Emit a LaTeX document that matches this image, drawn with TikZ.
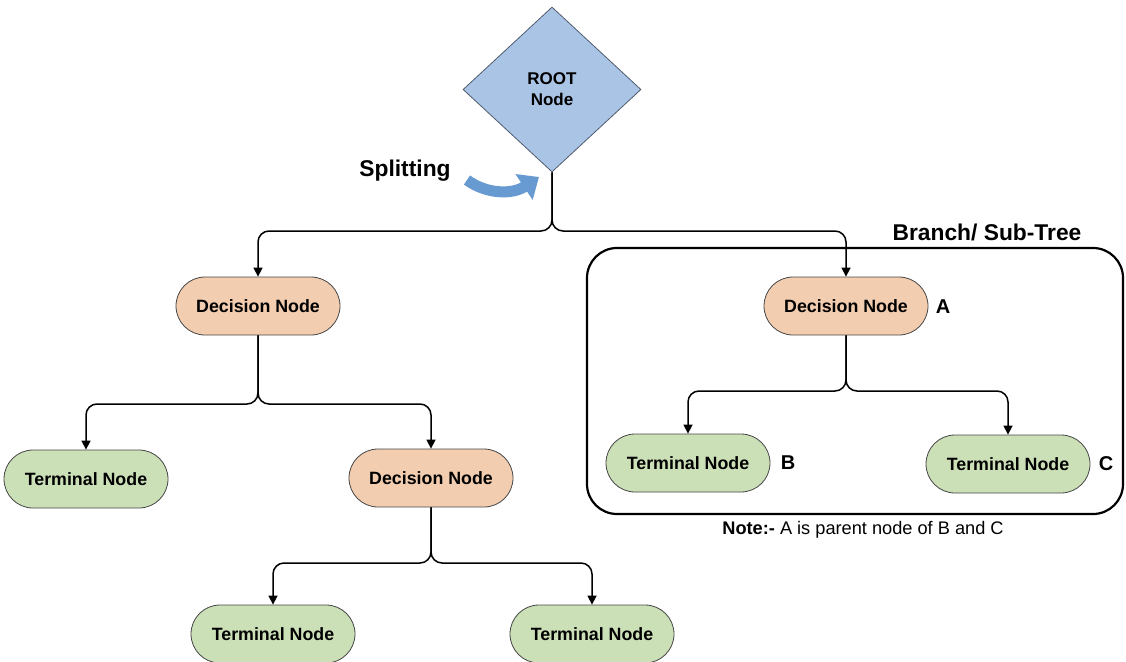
\documentclass[tikz,border=0pt]{standalone}
\usepackage{fontspec}
\setmainfont{Liberation Sans}
\usetikzlibrary{arrows.meta,shapes.geometric}

\definecolor{rootblue}{RGB}{169,196,228}
\definecolor{rootedge}{RGB}{80,92,110}
\definecolor{peach}{RGB}{242,205,176}
\definecolor{leafgreen}{RGB}{204,224,184}
\definecolor{nodeedge}{RGB}{70,70,70}
\definecolor{splitblue}{RGB}{104,154,210}

\tikzset{
  pill/.style={rectangle, rounded corners=29pt, minimum width=164pt,
    minimum height=58pt, draw=nodeedge, line width=0.8pt, inner sep=0pt,
    font=\fontsize{17.8}{20}\selectfont\bfseries},
  decision/.style={pill, fill=peach},
  terminal/.style={pill, fill=leafgreen},
  rootnode/.style={diamond, fill=rootblue, draw=rootedge, line width=0.8pt,
    minimum width=178pt, minimum height=165pt, inner sep=0pt, align=center,
    font=\fontsize{17}{21}\selectfont\bfseries},
  conn/.style={line width=1.5pt, rounded corners=11pt,
    -{Triangle[length=9pt,width=9pt]}},
  tag/.style={font=\fontsize{20}{22}\selectfont\bfseries},
  heading/.style={font=\fontsize{22.8}{26}\selectfont\bfseries},
}

\begin{document}
\begin{tikzpicture}[x=1pt,y=-1pt]
  \useasboundingbox (0,0) rectangle (1126,661);
  \clip (0,0) rectangle (1126,661);

  % sub-tree frame
  \node[draw, line width=2.2pt, rounded corners=30pt, minimum width=536pt,
        minimum height=266pt, inner sep=0pt] (branch) at (855,381) {};
  \node[heading] (branchlbl) at (987,232) {Branch/ Sub-Tree};

  % nodes
  \node[rootnode] (root) at (552,89.5) {ROOT\\Node};
  \node[decision] (dl) at (258,306) {Decision Node};
  \node[decision] (dA) at (846,306) {Decision Node};
  \node[terminal] (tl) at (86,479) {Terminal Node};
  \node[decision] (d2) at (431,478) {Decision Node};
  \node[terminal] (tB) at (688,463) {Terminal Node};
  \node[terminal] (tC) at (1008,464) {Terminal Node};
  \node[terminal] (tb1) at (273,634) {Terminal Node};
  \node[terminal] (tb2) at (592,634) {Terminal Node};

  % letter tags
  \node[tag] (la) at (943,307) {A};
  \node[tag] (lb) at (788,463) {B};
  \node[tag] (lc) at (1106,464) {C};

  % split levels
  \coordinate (s0) at (552,231);
  \coordinate (s1) at (258,404);
  \coordinate (s2) at (431,563);
  \coordinate (s3) at (846,391);

  % connectors
  \draw[conn] (root.south) |- (dl.north |- s0) -- (dl.north);
  \draw[conn] (root.south) |- (dA.north |- s0) -- (dA.north);
  \draw[conn] (dl.south) |- (tl.north |- s1) -- (tl.north);
  \draw[conn] (dl.south) |- (d2.north |- s1) -- (d2.north);
  \draw[conn] (d2.south) |- (tb1.north |- s2) -- (tb1.north);
  \draw[conn] (d2.south) |- (tb2.north |- s2) -- (tb2.north);
  \draw[conn] (dA.south) |- (tB.north |- s3) -- (tB.north);
  \draw[conn] (dA.south) |- (tC.north |- s3) -- (tC.north);

  % splitting arrow
  \node[heading] (split) at (405,171) {Splitting};
  \coordinate (sa) at (467,180);
  \coordinate (sb) at (539,177);
  \draw[splitblue, line width=11pt, -{Triangle[length=18pt,width=30pt]}]
    (sa) .. controls (486,194) and (512,195) .. (sb);

  % note
  \node[font=\fontsize{18.2}{21}\selectfont] (note) at (863,530)
    {\textbf{Note:-} A is parent node of B and C};
\end{tikzpicture}
\end{document}
